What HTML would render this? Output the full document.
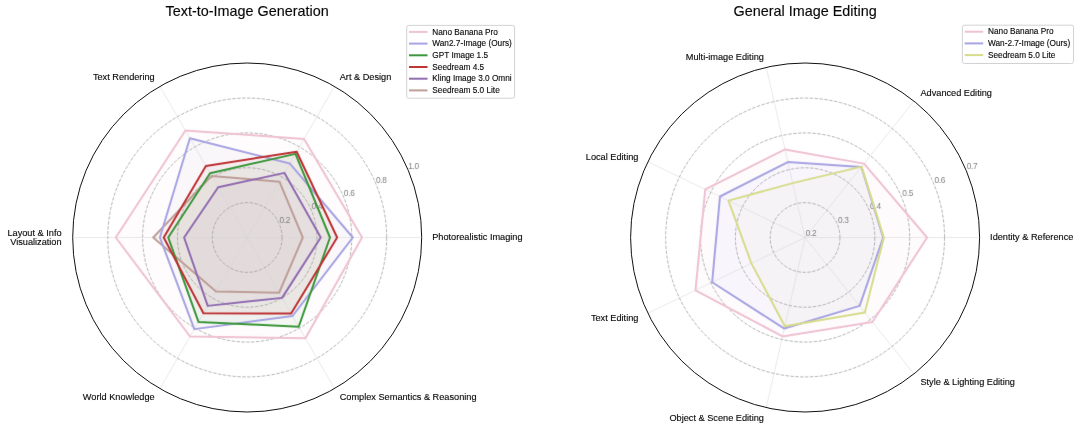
<!DOCTYPE html>
<html><head><meta charset="utf-8"><title>Radar charts</title>
<style>html,body{margin:0;padding:0;background:#fff;}svg{display:block;}</style></head>
<body><div id="w"><svg width="1080" height="433" viewBox="0 0 1080 433" font-family='"Liberation Sans", Arial, Helvetica, sans-serif'>
<defs><filter id="b" x="0" y="0" width="1080" height="433" filterUnits="userSpaceOnUse" color-interpolation-filters="sRGB"><feConvolveMatrix order="3" kernelMatrix="0.00524 0.06192 0.00524 0.06192 0.73137 0.06192 0.00524 0.06192 0.00524" edgeMode="duplicate"/></filter><filter id="t" x="0" y="0" width="1080" height="433" filterUnits="userSpaceOnUse" color-interpolation-filters="sRGB"><feConvolveMatrix order="3" kernelMatrix="0.00027 0.01580 0.00027 0.01580 0.93575 0.01580 0.00027 0.01580 0.00027" edgeMode="none"/></filter></defs>
<g filter="url(#b)"><rect width="1080" height="433" fill="#fff"/>
<polygon points="362.06,237.50 304.11,138.93 185.41,130.48 115.78,237.50 190.03,336.52 305.42,338.33" fill="#f1c1d0" fill-opacity="0.055" stroke="none"/>
<polygon points="352.83,237.50 289.90,163.54 189.86,138.18 159.88,237.50 194.30,329.13 292.52,315.99" fill="#a8a4dc" fill-opacity="0.055" stroke="none"/>
<polygon points="329.99,237.50 295.48,153.87 210.07,173.20 168.24,237.50 198.48,321.88 298.71,326.71" fill="#3c9637" fill-opacity="0.055" stroke="none"/>
<polygon points="337.14,237.50 296.70,151.76 205.89,165.95 163.71,237.50 203.45,313.28 291.12,313.58" fill="#bf312f" fill-opacity="0.055" stroke="none"/>
<polygon points="320.75,237.50 284.50,172.89 218.18,187.23 184.10,237.50 207.72,305.88 282.06,297.88" fill="#926cad" fill-opacity="0.055" stroke="none"/>
<polygon points="302.80,237.50 279.45,181.65 211.64,175.91 153.25,237.50 216.00,291.54 279.10,292.75" fill="#c09e95" fill-opacity="0.055" stroke="none"/>
<line x1="247.20" y1="237.50" x2="421.50" y2="237.50" stroke="#d4d4d4" stroke-opacity="0.5" stroke-width="1.0"/>
<line x1="247.20" y1="237.50" x2="334.35" y2="86.55" stroke="#d4d4d4" stroke-opacity="0.5" stroke-width="1.0"/>
<line x1="247.20" y1="237.50" x2="160.05" y2="86.55" stroke="#d4d4d4" stroke-opacity="0.5" stroke-width="1.0"/>
<line x1="247.20" y1="237.50" x2="72.90" y2="237.50" stroke="#d4d4d4" stroke-opacity="0.5" stroke-width="1.0"/>
<line x1="247.20" y1="237.50" x2="160.05" y2="388.45" stroke="#d4d4d4" stroke-opacity="0.5" stroke-width="1.0"/>
<line x1="247.20" y1="237.50" x2="334.35" y2="388.45" stroke="#d4d4d4" stroke-opacity="0.5" stroke-width="1.0"/>
<circle cx="247.20" cy="237.50" r="34.86" fill="none" stroke="#a0a0a0" stroke-width="0.8" stroke-dasharray="3.4 1.5"/>
<circle cx="247.20" cy="237.50" r="69.72" fill="none" stroke="#a0a0a0" stroke-width="0.8" stroke-dasharray="3.4 1.5"/>
<circle cx="247.20" cy="237.50" r="104.58" fill="none" stroke="#a0a0a0" stroke-width="0.8" stroke-dasharray="3.4 1.5"/>
<circle cx="247.20" cy="237.50" r="139.44" fill="none" stroke="#a0a0a0" stroke-width="0.8" stroke-dasharray="3.4 1.5"/>
<text x="279.41" y="222.66" font-size="8.3" letter-spacing="-0.3" fill="#808080">0.2</text>
<text x="311.61" y="209.32" font-size="8.3" letter-spacing="-0.3" fill="#808080">0.4</text>
<text x="343.82" y="195.98" font-size="8.3" letter-spacing="-0.3" fill="#808080">0.6</text>
<text x="376.03" y="182.64" font-size="8.3" letter-spacing="-0.3" fill="#808080">0.8</text>
<text x="408.23" y="169.30" font-size="8.3" letter-spacing="-0.3" fill="#808080">1.0</text>
<polygon points="302.80,237.50 279.45,181.65 211.64,175.91 153.25,237.50 216.00,291.54 279.10,292.75" fill="none" stroke="#be9e98" stroke-width="2.0" stroke-linejoin="round"/>
<polygon points="362.06,237.50 304.11,138.93 185.41,130.48 115.78,237.50 190.03,336.52 305.42,338.33" fill="none" stroke="#efc1d3" stroke-width="2.0" stroke-linejoin="round"/>
<polygon points="352.83,237.50 289.90,163.54 189.86,138.18 159.88,237.50 194.30,329.13 292.52,315.99" fill="none" stroke="#a6a3e2" stroke-width="2.0" stroke-linejoin="round"/>
<polygon points="329.99,237.50 295.48,153.87 210.07,173.20 168.24,237.50 198.48,321.88 298.71,326.71" fill="none" stroke="#3a963a" stroke-width="2.0" stroke-linejoin="round"/>
<polygon points="337.14,237.50 296.70,151.76 205.89,165.95 163.71,237.50 203.45,313.28 291.12,313.58" fill="none" stroke="#bd3132" stroke-width="2.0" stroke-linejoin="round"/>
<polygon points="320.75,237.50 284.50,172.89 218.18,187.23 184.10,237.50 207.72,305.88 282.06,297.88" fill="none" stroke="#906cb0" stroke-width="2.0" stroke-linejoin="round"/>
<polygon points="927.11,237.50 864.00,163.64 785.01,149.48 705.22,189.40 695.49,290.29 782.53,336.40 872.48,321.99" fill="#eac1dd" fill-opacity="0.065" stroke="none"/>
<polygon points="883.19,237.50 861.39,166.91 787.88,162.05 719.98,196.51 712.13,282.27 784.31,328.58 859.65,305.91" fill="#a1a4e9" fill-opacity="0.065" stroke="none"/>
<polygon points="883.88,237.50 861.61,166.64 792.69,183.12 728.47,200.59 751.39,263.36 784.85,326.20 864.87,312.45" fill="#d0daa2" fill-opacity="0.065" stroke="none"/>
<line x1="805.10" y1="237.50" x2="979.40" y2="237.50" stroke="#d4d4d4" stroke-opacity="0.5" stroke-width="1.0"/>
<line x1="805.10" y1="237.50" x2="913.77" y2="101.23" stroke="#d4d4d4" stroke-opacity="0.5" stroke-width="1.0"/>
<line x1="805.10" y1="237.50" x2="766.31" y2="67.57" stroke="#d4d4d4" stroke-opacity="0.5" stroke-width="1.0"/>
<line x1="805.10" y1="237.50" x2="648.06" y2="161.87" stroke="#d4d4d4" stroke-opacity="0.5" stroke-width="1.0"/>
<line x1="805.10" y1="237.50" x2="648.06" y2="313.13" stroke="#d4d4d4" stroke-opacity="0.5" stroke-width="1.0"/>
<line x1="805.10" y1="237.50" x2="766.31" y2="407.43" stroke="#d4d4d4" stroke-opacity="0.5" stroke-width="1.0"/>
<line x1="805.10" y1="237.50" x2="913.77" y2="373.77" stroke="#d4d4d4" stroke-opacity="0.5" stroke-width="1.0"/>
<circle cx="805.10" cy="237.50" r="34.86" fill="none" stroke="#a0a0a0" stroke-width="0.8" stroke-dasharray="3.4 1.5"/>
<circle cx="805.10" cy="237.50" r="69.72" fill="none" stroke="#a0a0a0" stroke-width="0.8" stroke-dasharray="3.4 1.5"/>
<circle cx="805.10" cy="237.50" r="104.58" fill="none" stroke="#a0a0a0" stroke-width="0.8" stroke-dasharray="3.4 1.5"/>
<circle cx="805.10" cy="237.50" r="139.44" fill="none" stroke="#a0a0a0" stroke-width="0.8" stroke-dasharray="3.4 1.5"/>
<text x="805.70" y="236.00" font-size="8.3" letter-spacing="-0.3" fill="#808080">0.2</text>
<text x="837.91" y="222.66" font-size="8.3" letter-spacing="-0.3" fill="#808080">0.3</text>
<text x="870.11" y="209.32" font-size="8.3" letter-spacing="-0.3" fill="#808080">0.4</text>
<text x="902.32" y="195.98" font-size="8.3" letter-spacing="-0.3" fill="#808080">0.5</text>
<text x="934.53" y="182.64" font-size="8.3" letter-spacing="-0.3" fill="#808080">0.6</text>
<text x="966.73" y="169.30" font-size="8.3" letter-spacing="-0.3" fill="#808080">0.7</text>
<polygon points="927.11,237.50 864.00,163.64 785.01,149.48 705.22,189.40 695.49,290.29 782.53,336.40 872.48,321.99" fill="none" stroke="#efc1d3" stroke-width="2.0" stroke-linejoin="round"/>
<polygon points="883.19,237.50 861.39,166.91 787.88,162.05 719.98,196.51 712.13,282.27 784.31,328.58 859.65,305.91" fill="none" stroke="#a6a3e2" stroke-width="2.0" stroke-linejoin="round"/>
<polygon points="883.88,237.50 861.61,166.64 792.69,183.12 728.47,200.59 751.39,263.36 784.85,326.20 864.87,312.45" fill="none" stroke="#d6dc8a" stroke-width="2.0" stroke-linejoin="round"/></g>
<circle cx="247.20" cy="237.50" r="174.50" fill="none" stroke="#111" stroke-width="1.0"/>
<circle cx="805.10" cy="237.50" r="174.50" fill="none" stroke="#111" stroke-width="1.0"/>
<g filter="url(#t)" stroke-width="0.12"><text x="432.20" y="240.24" font-size="9.2" text-anchor="start" fill="#000" stroke="#000">Photorealistic Imaging</text>
<text x="339.70" y="80.03" font-size="9.2" text-anchor="start" fill="#000" stroke="#000">Art &amp; Design</text>
<text x="154.70" y="80.03" font-size="9.2" text-anchor="end" fill="#000" stroke="#000">Text Rendering</text>
<text x="61.60" y="235.74" font-size="9.2" text-anchor="end" fill="#000" stroke="#000">Layout &amp; Info</text>
<text x="61.60" y="244.74" font-size="9.2" text-anchor="end" fill="#000" stroke="#000">Visualization</text>
<text x="154.70" y="400.46" font-size="9.2" text-anchor="end" fill="#000" stroke="#000">World Knowledge</text>
<text x="339.70" y="400.46" font-size="9.2" text-anchor="start" fill="#000" stroke="#000">Complex Semantics &amp; Reasoning</text>
<text x="247.20" y="15.7" font-size="14.4" text-anchor="middle" fill="#000" stroke="#000">Text-to-Image Generation</text>
<rect x="406.70" y="25.40" width="107.90" height="72.80" rx="2" ry="2" fill="#fff" fill-opacity="0.8" stroke="#cccccc" stroke-width="0.9"/>
<line x1="409.00" y1="31.90" x2="427.50" y2="31.90" stroke="#efc1d3" stroke-width="2.0"/>
<text x="432.30" y="34.50" font-size="8.25" fill="#000" stroke="#000">Nano Banana Pro</text>
<line x1="409.00" y1="43.60" x2="427.50" y2="43.60" stroke="#a6a3e2" stroke-width="2.0"/>
<text x="432.30" y="46.20" font-size="8.25" fill="#000" stroke="#000">Wan2.7-Image (Ours)</text>
<line x1="409.00" y1="55.30" x2="427.50" y2="55.30" stroke="#3a963a" stroke-width="2.0"/>
<text x="432.30" y="57.90" font-size="8.25" fill="#000" stroke="#000">GPT Image 1.5</text>
<line x1="409.00" y1="67.00" x2="427.50" y2="67.00" stroke="#bd3132" stroke-width="2.0"/>
<text x="432.30" y="69.60" font-size="8.25" fill="#000" stroke="#000">Seedream 4.5</text>
<line x1="409.00" y1="78.70" x2="427.50" y2="78.70" stroke="#906cb0" stroke-width="2.0"/>
<text x="432.30" y="81.30" font-size="8.25" fill="#000" stroke="#000">Kling Image 3.0 Omni</text>
<line x1="409.00" y1="90.40" x2="427.50" y2="90.40" stroke="#be9e98" stroke-width="2.0"/>
<text x="432.30" y="93.00" font-size="8.25" fill="#000" stroke="#000">Seedream 5.0 Lite</text>
<text x="990.10" y="240.24" font-size="9.2" text-anchor="start" fill="#000" stroke="#000">Identity &amp; Reference</text>
<text x="920.45" y="95.60" font-size="9.2" text-anchor="start" fill="#000" stroke="#000">Advanced Editing</text>
<text x="763.93" y="59.88" font-size="9.2" text-anchor="end" fill="#000" stroke="#000">Multi-image Editing</text>
<text x="638.42" y="159.97" font-size="9.2" text-anchor="end" fill="#000" stroke="#000">Local Editing</text>
<text x="638.42" y="320.51" font-size="9.2" text-anchor="end" fill="#000" stroke="#000">Text Editing</text>
<text x="763.93" y="420.60" font-size="9.2" text-anchor="end" fill="#000" stroke="#000">Object &amp; Scene Editing</text>
<text x="920.45" y="384.88" font-size="9.2" text-anchor="start" fill="#000" stroke="#000">Style &amp; Lighting Editing</text>
<text x="805.10" y="15.7" font-size="14.4" text-anchor="middle" fill="#000" stroke="#000">General Image Editing</text>
<rect x="962.40" y="25.20" width="111.10" height="38.30" rx="2" ry="2" fill="#fff" fill-opacity="0.8" stroke="#cccccc" stroke-width="0.9"/>
<line x1="964.70" y1="31.70" x2="983.20" y2="31.70" stroke="#efc1d3" stroke-width="2.0"/>
<text x="988.00" y="34.30" font-size="8.25" fill="#000" stroke="#000">Nano Banana Pro</text>
<line x1="964.70" y1="43.40" x2="983.20" y2="43.40" stroke="#a6a3e2" stroke-width="2.0"/>
<text x="988.00" y="46.00" font-size="8.25" fill="#000" stroke="#000">Wan-2.7-Image (Ours)</text>
<line x1="964.70" y1="55.10" x2="983.20" y2="55.10" stroke="#d6dc8a" stroke-width="2.0"/>
<text x="988.00" y="57.70" font-size="8.25" fill="#000" stroke="#000">Seedream 5.0 Lite</text></g>
</svg></div></body></html>
